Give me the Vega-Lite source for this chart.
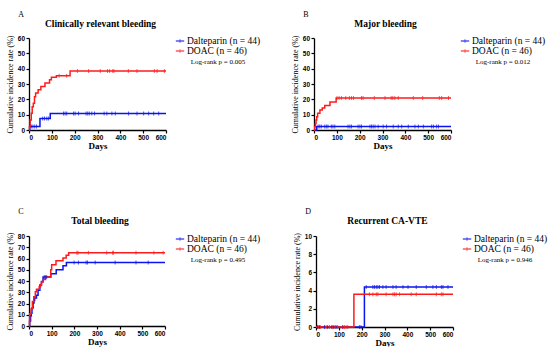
{
  "$schema": "https://vega.github.io/schema/vega-lite/v6.json",
  "background": "white",
  "padding": {"left": 6, "top": 10, "right": 0, "bottom": 0},
  "datasets": {
    "km": [
      {"panel":"A","group":"Dalteparin","kind":"curve","day":0,"value":0},
      {"panel":"A","group":"Dalteparin","kind":"curve","day":3,"value":2.3},
      {"panel":"A","group":"Dalteparin","kind":"curve","day":48,"value":7.5},
      {"panel":"A","group":"Dalteparin","kind":"curve","day":93,"value":10.8},
      {"panel":"A","group":"Dalteparin","kind":"curve","day":600,"value":10.8},
      {"panel":"A","group":"Dalteparin","kind":"censor","day":10,"value":2.3},
      {"panel":"A","group":"Dalteparin","kind":"censor","day":17,"value":2.3},
      {"panel":"A","group":"Dalteparin","kind":"censor","day":25,"value":2.3},
      {"panel":"A","group":"Dalteparin","kind":"censor","day":33,"value":2.3},
      {"panel":"A","group":"Dalteparin","kind":"censor","day":60,"value":7.5},
      {"panel":"A","group":"Dalteparin","kind":"censor","day":68,"value":7.5},
      {"panel":"A","group":"Dalteparin","kind":"censor","day":78,"value":7.5},
      {"panel":"A","group":"Dalteparin","kind":"censor","day":85,"value":7.5},
      {"panel":"A","group":"Dalteparin","kind":"censor","day":151,"value":10.8},
      {"panel":"A","group":"Dalteparin","kind":"censor","day":158,"value":10.8},
      {"panel":"A","group":"Dalteparin","kind":"censor","day":165,"value":10.8},
      {"panel":"A","group":"Dalteparin","kind":"censor","day":195,"value":10.8},
      {"panel":"A","group":"Dalteparin","kind":"censor","day":202,"value":10.8},
      {"panel":"A","group":"Dalteparin","kind":"censor","day":217,"value":10.8},
      {"panel":"A","group":"Dalteparin","kind":"censor","day":250,"value":10.8},
      {"panel":"A","group":"Dalteparin","kind":"censor","day":257,"value":10.8},
      {"panel":"A","group":"Dalteparin","kind":"censor","day":264,"value":10.8},
      {"panel":"A","group":"Dalteparin","kind":"censor","day":275,"value":10.8},
      {"panel":"A","group":"Dalteparin","kind":"censor","day":287,"value":10.8},
      {"panel":"A","group":"Dalteparin","kind":"censor","day":329,"value":10.8},
      {"panel":"A","group":"Dalteparin","kind":"censor","day":341,"value":10.8},
      {"panel":"A","group":"Dalteparin","kind":"censor","day":363,"value":10.8},
      {"panel":"A","group":"Dalteparin","kind":"censor","day":378,"value":10.8},
      {"panel":"A","group":"Dalteparin","kind":"censor","day":436,"value":10.8},
      {"panel":"A","group":"Dalteparin","kind":"censor","day":473,"value":10.8},
      {"panel":"A","group":"Dalteparin","kind":"censor","day":502,"value":10.8},
      {"panel":"A","group":"Dalteparin","kind":"censor","day":524,"value":10.8},
      {"panel":"A","group":"Dalteparin","kind":"censor","day":546,"value":10.8},
      {"panel":"A","group":"Dalteparin","kind":"censor","day":568,"value":10.8},
      {"panel":"A","group":"DOAC","kind":"curve","day":0,"value":0},
      {"panel":"A","group":"DOAC","kind":"curve","day":2,"value":2.2},
      {"panel":"A","group":"DOAC","kind":"curve","day":5,"value":6.5},
      {"panel":"A","group":"DOAC","kind":"curve","day":10,"value":10.9},
      {"panel":"A","group":"DOAC","kind":"curve","day":14,"value":15.2},
      {"panel":"A","group":"DOAC","kind":"curve","day":19,"value":17.4},
      {"panel":"A","group":"DOAC","kind":"curve","day":24,"value":21.7},
      {"panel":"A","group":"DOAC","kind":"curve","day":29,"value":24.1},
      {"panel":"A","group":"DOAC","kind":"curve","day":40,"value":26.3},
      {"panel":"A","group":"DOAC","kind":"curve","day":52,"value":28.4},
      {"panel":"A","group":"DOAC","kind":"curve","day":70,"value":30.6},
      {"panel":"A","group":"DOAC","kind":"curve","day":90,"value":32.8},
      {"panel":"A","group":"DOAC","kind":"curve","day":98,"value":34.4},
      {"panel":"A","group":"DOAC","kind":"curve","day":120,"value":35.4},
      {"panel":"A","group":"DOAC","kind":"curve","day":180,"value":38.4},
      {"panel":"A","group":"DOAC","kind":"curve","day":600,"value":38.4},
      {"panel":"A","group":"DOAC","kind":"censor","day":132,"value":35.4},
      {"panel":"A","group":"DOAC","kind":"censor","day":165,"value":35.4},
      {"panel":"A","group":"DOAC","kind":"censor","day":212,"value":38.4},
      {"panel":"A","group":"DOAC","kind":"censor","day":261,"value":38.4},
      {"panel":"A","group":"DOAC","kind":"censor","day":312,"value":38.4},
      {"panel":"A","group":"DOAC","kind":"censor","day":344,"value":38.4},
      {"panel":"A","group":"DOAC","kind":"censor","day":353,"value":38.4},
      {"panel":"A","group":"DOAC","kind":"censor","day":367,"value":38.4},
      {"panel":"A","group":"DOAC","kind":"censor","day":372,"value":38.4},
      {"panel":"A","group":"DOAC","kind":"censor","day":435,"value":38.4},
      {"panel":"A","group":"DOAC","kind":"censor","day":473,"value":38.4},
      {"panel":"A","group":"DOAC","kind":"censor","day":549,"value":38.4},
      {"panel":"A","group":"DOAC","kind":"censor","day":561,"value":38.4},
      {"panel":"A","group":"DOAC","kind":"censor","day":593,"value":38.4},

      {"panel":"B","group":"Dalteparin","kind":"curve","day":0,"value":0},
      {"panel":"B","group":"Dalteparin","kind":"curve","day":12,"value":2.3},
      {"panel":"B","group":"Dalteparin","kind":"curve","day":600,"value":2.3},
      {"panel":"B","group":"Dalteparin","kind":"censor","day":18,"value":2.3},
      {"panel":"B","group":"Dalteparin","kind":"censor","day":25,"value":2.3},
      {"panel":"B","group":"Dalteparin","kind":"censor","day":32,"value":2.3},
      {"panel":"B","group":"Dalteparin","kind":"censor","day":47,"value":2.3},
      {"panel":"B","group":"Dalteparin","kind":"censor","day":54,"value":2.3},
      {"panel":"B","group":"Dalteparin","kind":"censor","day":61,"value":2.3},
      {"panel":"B","group":"Dalteparin","kind":"censor","day":76,"value":2.3},
      {"panel":"B","group":"Dalteparin","kind":"censor","day":83,"value":2.3},
      {"panel":"B","group":"Dalteparin","kind":"censor","day":91,"value":2.3},
      {"panel":"B","group":"Dalteparin","kind":"censor","day":149,"value":2.3},
      {"panel":"B","group":"Dalteparin","kind":"censor","day":157,"value":2.3},
      {"panel":"B","group":"Dalteparin","kind":"censor","day":164,"value":2.3},
      {"panel":"B","group":"Dalteparin","kind":"censor","day":193,"value":2.3},
      {"panel":"B","group":"Dalteparin","kind":"censor","day":201,"value":2.3},
      {"panel":"B","group":"Dalteparin","kind":"censor","day":208,"value":2.3},
      {"panel":"B","group":"Dalteparin","kind":"censor","day":245,"value":2.3},
      {"panel":"B","group":"Dalteparin","kind":"censor","day":252,"value":2.3},
      {"panel":"B","group":"Dalteparin","kind":"censor","day":259,"value":2.3},
      {"panel":"B","group":"Dalteparin","kind":"censor","day":267,"value":2.3},
      {"panel":"B","group":"Dalteparin","kind":"censor","day":281,"value":2.3},
      {"panel":"B","group":"Dalteparin","kind":"censor","day":303,"value":2.3},
      {"panel":"B","group":"Dalteparin","kind":"censor","day":318,"value":2.3},
      {"panel":"B","group":"Dalteparin","kind":"censor","day":347,"value":2.3},
      {"panel":"B","group":"Dalteparin","kind":"censor","day":369,"value":2.3},
      {"panel":"B","group":"Dalteparin","kind":"censor","day":384,"value":2.3},
      {"panel":"B","group":"Dalteparin","kind":"censor","day":413,"value":2.3},
      {"panel":"B","group":"Dalteparin","kind":"censor","day":442,"value":2.3},
      {"panel":"B","group":"Dalteparin","kind":"censor","day":457,"value":2.3},
      {"panel":"B","group":"Dalteparin","kind":"censor","day":479,"value":2.3},
      {"panel":"B","group":"Dalteparin","kind":"censor","day":515,"value":2.3},
      {"panel":"B","group":"Dalteparin","kind":"censor","day":523,"value":2.3},
      {"panel":"B","group":"Dalteparin","kind":"censor","day":537,"value":2.3},
      {"panel":"B","group":"Dalteparin","kind":"censor","day":545,"value":2.3},
      {"panel":"B","group":"DOAC","kind":"curve","day":0,"value":0},
      {"panel":"B","group":"DOAC","kind":"curve","day":3,"value":2.2},
      {"panel":"B","group":"DOAC","kind":"curve","day":6,"value":4.3},
      {"panel":"B","group":"DOAC","kind":"curve","day":9,"value":6.5},
      {"panel":"B","group":"DOAC","kind":"curve","day":12,"value":8.7},
      {"panel":"B","group":"DOAC","kind":"curve","day":16,"value":10.9},
      {"panel":"B","group":"DOAC","kind":"curve","day":26,"value":13.0},
      {"panel":"B","group":"DOAC","kind":"curve","day":36,"value":14.3},
      {"panel":"B","group":"DOAC","kind":"curve","day":47,"value":16.0},
      {"panel":"B","group":"DOAC","kind":"curve","day":70,"value":18.3},
      {"panel":"B","group":"DOAC","kind":"curve","day":97,"value":20.9},
      {"panel":"B","group":"DOAC","kind":"curve","day":600,"value":20.9},
      {"panel":"B","group":"DOAC","kind":"censor","day":101,"value":20.9},
      {"panel":"B","group":"DOAC","kind":"censor","day":110,"value":20.9},
      {"panel":"B","group":"DOAC","kind":"censor","day":120,"value":20.9},
      {"panel":"B","group":"DOAC","kind":"censor","day":139,"value":20.9},
      {"panel":"B","group":"DOAC","kind":"censor","day":155,"value":20.9},
      {"panel":"B","group":"DOAC","kind":"censor","day":164,"value":20.9},
      {"panel":"B","group":"DOAC","kind":"censor","day":173,"value":20.9},
      {"panel":"B","group":"DOAC","kind":"censor","day":208,"value":20.9},
      {"panel":"B","group":"DOAC","kind":"censor","day":215,"value":20.9},
      {"panel":"B","group":"DOAC","kind":"censor","day":264,"value":20.9},
      {"panel":"B","group":"DOAC","kind":"censor","day":311,"value":20.9},
      {"panel":"B","group":"DOAC","kind":"censor","day":338,"value":20.9},
      {"panel":"B","group":"DOAC","kind":"censor","day":345,"value":20.9},
      {"panel":"B","group":"DOAC","kind":"censor","day":354,"value":20.9},
      {"panel":"B","group":"DOAC","kind":"censor","day":369,"value":20.9},
      {"panel":"B","group":"DOAC","kind":"censor","day":435,"value":20.9},
      {"panel":"B","group":"DOAC","kind":"censor","day":476,"value":20.9},
      {"panel":"B","group":"DOAC","kind":"censor","day":549,"value":20.9},
      {"panel":"B","group":"DOAC","kind":"censor","day":559,"value":20.9},
      {"panel":"B","group":"DOAC","kind":"censor","day":589,"value":20.9},

      {"panel":"C","group":"Dalteparin","kind":"curve","day":0,"value":0},
      {"panel":"C","group":"Dalteparin","kind":"curve","day":3,"value":4.5},
      {"panel":"C","group":"Dalteparin","kind":"curve","day":7,"value":9.1},
      {"panel":"C","group":"Dalteparin","kind":"curve","day":10,"value":11.4},
      {"panel":"C","group":"Dalteparin","kind":"curve","day":13,"value":15.9},
      {"panel":"C","group":"Dalteparin","kind":"curve","day":18,"value":20.5},
      {"panel":"C","group":"Dalteparin","kind":"curve","day":22,"value":22.7},
      {"panel":"C","group":"Dalteparin","kind":"curve","day":25,"value":25.0},
      {"panel":"C","group":"Dalteparin","kind":"curve","day":33,"value":27.3},
      {"panel":"C","group":"Dalteparin","kind":"curve","day":40,"value":31.8},
      {"panel":"C","group":"Dalteparin","kind":"curve","day":48,"value":36.4},
      {"panel":"C","group":"Dalteparin","kind":"curve","day":55,"value":39.6},
      {"panel":"C","group":"Dalteparin","kind":"curve","day":62,"value":43.5},
      {"panel":"C","group":"Dalteparin","kind":"curve","day":96,"value":46.5},
      {"panel":"C","group":"Dalteparin","kind":"curve","day":120,"value":50.0},
      {"panel":"C","group":"Dalteparin","kind":"curve","day":150,"value":53.5},
      {"panel":"C","group":"Dalteparin","kind":"curve","day":165,"value":56.5},
      {"panel":"C","group":"Dalteparin","kind":"curve","day":600,"value":56.5},
      {"panel":"C","group":"Dalteparin","kind":"censor","day":67,"value":43.5},
      {"panel":"C","group":"Dalteparin","kind":"censor","day":72,"value":43.5},
      {"panel":"C","group":"Dalteparin","kind":"censor","day":78,"value":43.5},
      {"panel":"C","group":"Dalteparin","kind":"censor","day":199,"value":56.5},
      {"panel":"C","group":"Dalteparin","kind":"censor","day":218,"value":56.5},
      {"panel":"C","group":"Dalteparin","kind":"censor","day":252,"value":56.5},
      {"panel":"C","group":"Dalteparin","kind":"censor","day":258,"value":56.5},
      {"panel":"C","group":"Dalteparin","kind":"censor","day":292,"value":56.5},
      {"panel":"C","group":"Dalteparin","kind":"censor","day":380,"value":56.5},
      {"panel":"C","group":"Dalteparin","kind":"censor","day":472,"value":56.5},
      {"panel":"C","group":"Dalteparin","kind":"censor","day":526,"value":56.5},
      {"panel":"C","group":"DOAC","kind":"curve","day":0,"value":0},
      {"panel":"C","group":"DOAC","kind":"curve","day":2,"value":4.3},
      {"panel":"C","group":"DOAC","kind":"curve","day":3,"value":10.9},
      {"panel":"C","group":"DOAC","kind":"curve","day":9,"value":15.2},
      {"panel":"C","group":"DOAC","kind":"curve","day":15,"value":21.7},
      {"panel":"C","group":"DOAC","kind":"curve","day":21,"value":26.1},
      {"panel":"C","group":"DOAC","kind":"curve","day":28,"value":30.4},
      {"panel":"C","group":"DOAC","kind":"curve","day":33,"value":32.6},
      {"panel":"C","group":"DOAC","kind":"curve","day":45,"value":34.8},
      {"panel":"C","group":"DOAC","kind":"curve","day":51,"value":37.0},
      {"panel":"C","group":"DOAC","kind":"curve","day":55,"value":39.1},
      {"panel":"C","group":"DOAC","kind":"curve","day":63,"value":41.3},
      {"panel":"C","group":"DOAC","kind":"curve","day":73,"value":43.5},
      {"panel":"C","group":"DOAC","kind":"curve","day":96,"value":50.0},
      {"panel":"C","group":"DOAC","kind":"curve","day":100,"value":54.5},
      {"panel":"C","group":"DOAC","kind":"curve","day":119,"value":58.0},
      {"panel":"C","group":"DOAC","kind":"curve","day":150,"value":60.4},
      {"panel":"C","group":"DOAC","kind":"curve","day":164,"value":63.0},
      {"panel":"C","group":"DOAC","kind":"curve","day":175,"value":65.2},
      {"panel":"C","group":"DOAC","kind":"curve","day":600,"value":65.2},
      {"panel":"C","group":"DOAC","kind":"censor","day":211,"value":65.2},
      {"panel":"C","group":"DOAC","kind":"censor","day":216,"value":65.2},
      {"panel":"C","group":"DOAC","kind":"censor","day":262,"value":65.2},
      {"panel":"C","group":"DOAC","kind":"censor","day":343,"value":65.2},
      {"panel":"C","group":"DOAC","kind":"censor","day":369,"value":65.2},
      {"panel":"C","group":"DOAC","kind":"censor","day":372,"value":65.2},
      {"panel":"C","group":"DOAC","kind":"censor","day":472,"value":65.2},
      {"panel":"C","group":"DOAC","kind":"censor","day":551,"value":65.2},
      {"panel":"C","group":"DOAC","kind":"censor","day":592,"value":65.2},

      {"panel":"D","group":"Dalteparin","kind":"curve","day":0,"value":0},
      {"panel":"D","group":"Dalteparin","kind":"curve","day":212,"value":4.4},
      {"panel":"D","group":"Dalteparin","kind":"curve","day":600,"value":4.4},
      {"panel":"D","group":"Dalteparin","kind":"censor","day":7,"value":0},
      {"panel":"D","group":"Dalteparin","kind":"censor","day":15,"value":0},
      {"panel":"D","group":"Dalteparin","kind":"censor","day":37,"value":0},
      {"panel":"D","group":"Dalteparin","kind":"censor","day":51,"value":0},
      {"panel":"D","group":"Dalteparin","kind":"censor","day":69,"value":0},
      {"panel":"D","group":"Dalteparin","kind":"censor","day":78,"value":0},
      {"panel":"D","group":"Dalteparin","kind":"censor","day":88,"value":0},
      {"panel":"D","group":"Dalteparin","kind":"censor","day":117,"value":0},
      {"panel":"D","group":"Dalteparin","kind":"censor","day":190,"value":0},
      {"panel":"D","group":"Dalteparin","kind":"censor","day":197,"value":0},
      {"panel":"D","group":"Dalteparin","kind":"censor","day":220,"value":4.4},
      {"panel":"D","group":"Dalteparin","kind":"censor","day":249,"value":4.4},
      {"panel":"D","group":"Dalteparin","kind":"censor","day":256,"value":4.4},
      {"panel":"D","group":"Dalteparin","kind":"censor","day":264,"value":4.4},
      {"panel":"D","group":"Dalteparin","kind":"censor","day":271,"value":4.4},
      {"panel":"D","group":"Dalteparin","kind":"censor","day":278,"value":4.4},
      {"panel":"D","group":"Dalteparin","kind":"censor","day":293,"value":4.4},
      {"panel":"D","group":"Dalteparin","kind":"censor","day":307,"value":4.4},
      {"panel":"D","group":"Dalteparin","kind":"censor","day":337,"value":4.4},
      {"panel":"D","group":"Dalteparin","kind":"censor","day":351,"value":4.4},
      {"panel":"D","group":"Dalteparin","kind":"censor","day":381,"value":4.4},
      {"panel":"D","group":"Dalteparin","kind":"censor","day":403,"value":4.4},
      {"panel":"D","group":"Dalteparin","kind":"censor","day":439,"value":4.4},
      {"panel":"D","group":"Dalteparin","kind":"censor","day":483,"value":4.4},
      {"panel":"D","group":"Dalteparin","kind":"censor","day":512,"value":4.4},
      {"panel":"D","group":"Dalteparin","kind":"censor","day":527,"value":4.4},
      {"panel":"D","group":"Dalteparin","kind":"censor","day":549,"value":4.4},
      {"panel":"D","group":"Dalteparin","kind":"censor","day":556,"value":4.4},
      {"panel":"D","group":"Dalteparin","kind":"censor","day":578,"value":4.4},
      {"panel":"D","group":"DOAC","kind":"curve","day":0,"value":0},
      {"panel":"D","group":"DOAC","kind":"curve","day":166,"value":3.6},
      {"panel":"D","group":"DOAC","kind":"curve","day":600,"value":3.6},
      {"panel":"D","group":"DOAC","kind":"censor","day":10,"value":0},
      {"panel":"D","group":"DOAC","kind":"censor","day":19,"value":0},
      {"panel":"D","group":"DOAC","kind":"censor","day":44,"value":0},
      {"panel":"D","group":"DOAC","kind":"censor","day":59,"value":0},
      {"panel":"D","group":"DOAC","kind":"censor","day":73,"value":0},
      {"panel":"D","group":"DOAC","kind":"censor","day":84,"value":0},
      {"panel":"D","group":"DOAC","kind":"censor","day":95,"value":0},
      {"panel":"D","group":"DOAC","kind":"censor","day":117,"value":0},
      {"panel":"D","group":"DOAC","kind":"censor","day":125,"value":0},
      {"panel":"D","group":"DOAC","kind":"censor","day":132,"value":0},
      {"panel":"D","group":"DOAC","kind":"censor","day":139,"value":0},
      {"panel":"D","group":"DOAC","kind":"censor","day":234,"value":3.6},
      {"panel":"D","group":"DOAC","kind":"censor","day":249,"value":3.6},
      {"panel":"D","group":"DOAC","kind":"censor","day":264,"value":3.6},
      {"panel":"D","group":"DOAC","kind":"censor","day":271,"value":3.6},
      {"panel":"D","group":"DOAC","kind":"censor","day":307,"value":3.6},
      {"panel":"D","group":"DOAC","kind":"censor","day":337,"value":3.6},
      {"panel":"D","group":"DOAC","kind":"censor","day":344,"value":3.6},
      {"panel":"D","group":"DOAC","kind":"censor","day":351,"value":3.6},
      {"panel":"D","group":"DOAC","kind":"censor","day":366,"value":3.6},
      {"panel":"D","group":"DOAC","kind":"censor","day":417,"value":3.6},
      {"panel":"D","group":"DOAC","kind":"censor","day":439,"value":3.6},
      {"panel":"D","group":"DOAC","kind":"censor","day":527,"value":3.6},
      {"panel":"D","group":"DOAC","kind":"censor","day":549,"value":3.6},
      {"panel":"D","group":"DOAC","kind":"censor","day":556,"value":3.6}
    ]
  },
  "config": {
    "view": {"stroke": null},
    "axis": {
      "grid": false,
      "domainColor": "black",
      "domainWidth": 1.3,
      "tickColor": "black",
      "tickWidth": 1.2,
      "tickSize": 3,
      "labelFont": "Liberation Sans",
      "labelFontWeight": "bold",
      "labelFontSize": 6.5,
      "labelColor": "black",
      "labelPadding": 1.5,
      "titleColor": "black",
      "titleFont": "Liberation Serif"
    },
    "axisX": {"titleFontWeight": "bold", "titleFontSize": 9, "titlePadding": 0},
    "axisY": {"titleFontWeight": "normal", "titleFontSize": 8, "titlePadding": 3},
    "legend": {
      "titleOrient": "bottom",
      "titleAnchor": "middle",
      "titleFont": "Liberation Serif",
      "titleFontSize": 7,
      "titleFontWeight": "normal",
      "titleColor": "black",
      "titlePadding": 2,
      "labelFont": "Liberation Serif",
      "labelFontSize": 9.5,
      "labelColor": "black",
      "labelOffset": 2,
      "symbolType": "M-1,0H1M0,-0.35V0.35",
      "symbolSize": 70,
      "symbolStrokeWidth": 1.5,
      "rowPadding": 0,
      "padding": 0
    },
    "title": {"color": "black", "font": "Liberation Serif"}
  },
  "vconcat": [
    {
      "hconcat": [
        {
          "title": {"text": "A", "anchor": "start", "dx": 12, "fontSize": 8, "fontWeight": "normal", "offset": 0},
          "vconcat": [{
            "width": 137, "height": 92,
            "title": {"text": "Clinically relevant bleeding", "anchor": "middle", "frame": "group", "dx": 3, "fontSize": 9.5, "fontWeight": "bold", "offset": 7},
            "data": {"name": "km"},
            "transform": [{"filter": "datum.panel === 'A'"}],
            "encoding": {
              "x": {"field": "day", "type": "quantitative", "scale": {"domain": [0, 600], "nice": false}, "axis": {"values": [0,100,200,300,400,500,600], "title": "Days"}},
              "y": {"field": "value", "type": "quantitative", "scale": {"domain": [0, 60], "nice": false}, "axis": {"values": [0,10,20,30,40,50,60], "title": "Cumulative incidence rate (%)"}},
              "color": {"field": "group", "type": "nominal", "scale": {"domain": ["Dalteparin", "DOAC"], "range": ["#0a14ee", "#ff1a1a"]},
                "legend": {"orient": "none", "legendX": 146, "legendY": -2, "title": "Log-rank p = 0.005", "labelFont": "Liberation Serif", "titleFont": "Liberation Serif", "labelExpr": "datum.label === 'DOAC' ? 'DOAC (n = 46)' : 'Dalteparin (n = 44)'"}}
            },
            "layer": [
              {"transform": [{"filter": "datum.kind === 'curve'"}], "mark": {"type": "line", "interpolate": "step-after", "strokeWidth": 1.5}},
              {"transform": [{"filter": "datum.kind === 'censor'"}], "mark": {"type": "tick", "orient": "vertical", "size": 4, "thickness": 1}}
            ]
          }],
          "resolve": {"scale": {"color": "independent"}, "legend": {"color": "independent"}}
        },
        {
          "title": {"text": "B", "anchor": "start", "dx": 12, "fontSize": 8, "fontWeight": "normal", "offset": 0},
          "vconcat": [{
            "width": 137, "height": 92,
            "title": {"text": "Major bleeding", "anchor": "middle", "frame": "group", "dx": 3, "fontSize": 9.5, "fontWeight": "bold", "offset": 7},
            "data": {"name": "km"},
            "transform": [{"filter": "datum.panel === 'B'"}],
            "encoding": {
              "x": {"field": "day", "type": "quantitative", "scale": {"domain": [0, 600], "nice": false}, "axis": {"values": [0,100,200,300,400,500,600], "title": "Days"}},
              "y": {"field": "value", "type": "quantitative", "scale": {"domain": [0, 60], "nice": false}, "axis": {"values": [0,10,20,30,40,50,60], "title": "Cumulative incidence rate (%)"}},
              "color": {"field": "group", "type": "nominal", "scale": {"domain": ["Dalteparin", "DOAC"], "range": ["#0a14ee", "#ff1a1a"]},
                "legend": {"orient": "none", "legendX": 146, "legendY": -2, "title": "Log-rank p = 0.012", "labelFont": "Liberation Serif", "titleFont": "Liberation Serif", "labelExpr": "datum.label === 'DOAC' ? 'DOAC (n = 46)' : 'Dalteparin (n = 44)'"}}
            },
            "layer": [
              {"transform": [{"filter": "datum.kind === 'curve'"}], "mark": {"type": "line", "interpolate": "step-after", "strokeWidth": 1.5}},
              {"transform": [{"filter": "datum.kind === 'censor'"}], "mark": {"type": "tick", "orient": "vertical", "size": 4, "thickness": 1}}
            ]
          }],
          "resolve": {"scale": {"color": "independent"}, "legend": {"color": "independent"}}
        }
      ],
      "spacing": 30,
      "resolve": {"scale": {"color": "independent"}, "legend": {"color": "independent"}}
    },
    {
      "hconcat": [
        {
          "title": {"text": "C", "anchor": "start", "dx": 12, "fontSize": 8, "fontWeight": "normal", "offset": 0},
          "vconcat": [{
            "width": 136, "height": 90,
            "title": {"text": "Total bleeding", "anchor": "middle", "frame": "group", "dx": 3, "fontSize": 9.5, "fontWeight": "bold", "offset": 7},
            "data": {"name": "km"},
            "transform": [{"filter": "datum.panel === 'C'"}],
            "encoding": {
              "x": {"field": "day", "type": "quantitative", "scale": {"domain": [0, 600], "nice": false}, "axis": {"values": [0,100,200,300,400,500,600], "title": "Days"}},
              "y": {"field": "value", "type": "quantitative", "scale": {"domain": [0, 80], "nice": false}, "axis": {"values": [0,10,20,30,40,50,60,70,80], "title": "Cumulative incidence rate (%)"}},
              "color": {"field": "group", "type": "nominal", "scale": {"domain": ["Dalteparin", "DOAC"], "range": ["#0a14ee", "#ff1a1a"]},
                "legend": {"orient": "none", "legendX": 146, "legendY": -2, "title": "Log-rank p = 0.495", "labelFont": "Liberation Serif", "titleFont": "Liberation Serif", "labelExpr": "datum.label === 'DOAC' ? 'DOAC (n = 46)' : 'Dalteparin (n = 44)'"}}
            },
            "layer": [
              {"transform": [{"filter": "datum.kind === 'curve'"}], "mark": {"type": "line", "interpolate": "step-after", "strokeWidth": 1.5}},
              {"transform": [{"filter": "datum.kind === 'censor'"}], "mark": {"type": "tick", "orient": "vertical", "size": 4, "thickness": 1}}
            ]
          }],
          "resolve": {"scale": {"color": "independent"}, "legend": {"color": "independent"}}
        },
        {
          "title": {"text": "D", "anchor": "start", "dx": 12, "fontSize": 8, "fontWeight": "normal", "offset": 0},
          "vconcat": [{
            "width": 137, "height": 91,
            "title": {"text": "Recurrent CA-VTE", "anchor": "middle", "frame": "group", "dx": 3, "fontSize": 9.5, "fontWeight": "bold", "offset": 7},
            "data": {"name": "km"},
            "transform": [{"filter": "datum.panel === 'D'"}],
            "encoding": {
              "x": {"field": "day", "type": "quantitative", "scale": {"domain": [0, 600], "nice": false}, "axis": {"values": [0,100,200,300,400,500,600], "title": "Days"}},
              "y": {"field": "value", "type": "quantitative", "scale": {"domain": [0, 10], "nice": false}, "axis": {"values": [0,2,4,6,8,10], "title": "Cumulative incidence rate (%)"}},
              "color": {"field": "group", "type": "nominal", "scale": {"domain": ["Dalteparin", "DOAC"], "range": ["#0a14ee", "#ff1a1a"]},
                "legend": {"orient": "none", "legendX": 146, "legendY": -2, "title": "Log-rank p = 0.946", "labelFont": "Liberation Serif", "titleFont": "Liberation Serif", "labelExpr": "datum.label === 'DOAC' ? 'DOAC (n = 46)' : 'Dalteparin (n = 44)'"}}
            },
            "layer": [
              {"transform": [{"filter": "datum.kind === 'curve'"}], "mark": {"type": "line", "interpolate": "step-after", "strokeWidth": 1.5}},
              {"transform": [{"filter": "datum.kind === 'censor'"}], "mark": {"type": "tick", "orient": "vertical", "size": 4, "thickness": 1}}
            ]
          }],
          "resolve": {"scale": {"color": "independent"}, "legend": {"color": "independent"}}
        }
      ],
      "spacing": 32,
      "resolve": {"scale": {"color": "independent"}, "legend": {"color": "independent"}}
    }
  ],
  "spacing": 57,
  "resolve": {"scale": {"color": "independent"}, "legend": {"color": "independent"}}
}
